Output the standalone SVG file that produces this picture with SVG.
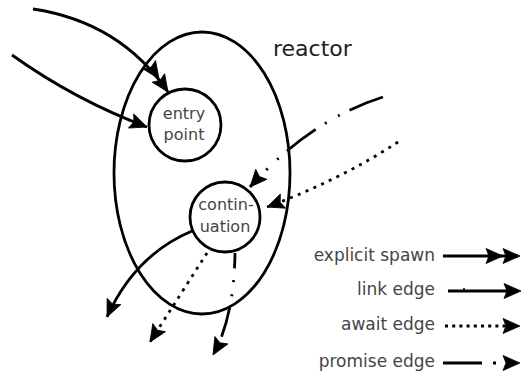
<svg xmlns="http://www.w3.org/2000/svg" width="522" height="379" viewBox="0 0 522 379">
  <style>
    .shape { fill: none; stroke: #000; stroke-width: 2.8; }
    .node { fill: #fff; stroke: #000; stroke-width: 2.8; }
    .edge { fill: none; stroke: #000; stroke-width: 2.8; }
    .await { stroke-dasharray: 3 5.5; }
    .head { fill: #000; stroke: #000; stroke-width: 0.8; stroke-linejoin: miter; }
    .label { font-family: "DejaVu Sans", "Liberation Sans", sans-serif; font-size: 16px; fill: #454545; text-anchor: middle; }
    .title { font-family: "DejaVu Sans", "Liberation Sans", sans-serif; font-size: 22px; fill: #1e1e1e; }
    .key { font-family: "DejaVu Sans", "Liberation Sans", sans-serif; font-size: 17px; fill: #454545; text-anchor: end; }
  </style>
  <defs>
    <!-- arrowhead with its tip at the origin, pointing along +x -->
    <path id="arrowhead" class="head" d="M0,0 L-17,-7.5 L-14,0 L-17,7.5 Z"/>
  </defs>

  <rect width="522" height="379" fill="#fff"/>

  <!-- reactor boundary -->
  <g id="reactor">
    <ellipse class="shape" cx="202" cy="173" rx="88" ry="141"/>
    <text class="title" x="273" y="56">reactor</text>
  </g>

  <!-- connectors -->
  <g id="edges">
    <!-- incoming explicit spawn -->
    <path class="edge" d="M33,9 Q120,22 168,92"/>
    <use href="#arrowhead" transform="translate(168,92) rotate(55.6)"/>
    <use href="#arrowhead" transform="translate(168,92) rotate(55.6) translate(-16,0)"/>
    <!-- incoming link -->
    <path class="edge" d="M12,55 Q75,100 147,127"/>
    <use href="#arrowhead" transform="translate(147,127) rotate(20.6)"/>
    <!-- incoming promise -->
    <path class="edge" stroke-dasharray="36 11 2 13 2 11" d="M383,97 Q310,120 250,187"/>
    <use href="#arrowhead" transform="translate(250,187) rotate(131.8)"/>
    <!-- incoming await -->
    <path class="edge await" d="M398,142 Q340,180 267,207"/>
    <use href="#arrowhead" transform="translate(267,207) rotate(159.7)"/>
    <!-- outgoing link -->
    <path class="edge" d="M192,231 Q135,255 107,317"/>
    <use href="#arrowhead" transform="translate(107,317) rotate(114.3)"/>
    <!-- outgoing await -->
    <path class="edge await" d="M207,253 Q180,295 150,342"/>
    <use href="#arrowhead" transform="translate(150,342) rotate(122.5)"/>
    <!-- outgoing promise -->
    <path class="edge" stroke-dasharray="30 12 2 12 2 12" stroke-dashoffset="15" d="M235,253 Q234,318 213,355"/>
    <use href="#arrowhead" transform="translate(213,355) rotate(119.6)"/>
  </g>

  <g id="entry-point">
    <circle class="node" cx="185" cy="125" r="36"/>
    <text class="label" x="184" y="119">entry</text>
    <text class="label" x="184" y="140">point</text>
  </g>

  <g id="continuation">
    <circle class="node" cx="225" cy="217" r="35"/>
    <text class="label" x="226" y="210">contin-</text>
    <text class="label" x="225" y="232">uation</text>
  </g>

  <!-- edge kinds -->
  <g id="legend">
    <text class="key" x="435" y="261">explicit spawn</text>
    <path class="edge" d="M443,256 L518,256"/>
    <use href="#arrowhead" transform="translate(520,256)"/>
    <use href="#arrowhead" transform="translate(503,256)"/>

    <text class="key" x="435" y="295">link edge</text>
    <path class="edge" d="M448,291 L518,291"/>
    <path d="M464,288 L464,291" stroke="#000" stroke-width="1.5"/>
    <use href="#arrowhead" transform="translate(521,291)"/>

    <text class="key" x="435" y="330">await edge</text>
    <path class="edge" stroke-dasharray="3 4.2" d="M445,326 L506,326"/>
    <use href="#arrowhead" transform="translate(520,326)"/>

    <text class="key" x="435" y="367">promise edge</text>
    <path class="edge" stroke-dasharray="39 11 3 40" d="M443,363 L510,363"/>
    <use href="#arrowhead" transform="translate(520,363)"/>
  </g>
</svg>
